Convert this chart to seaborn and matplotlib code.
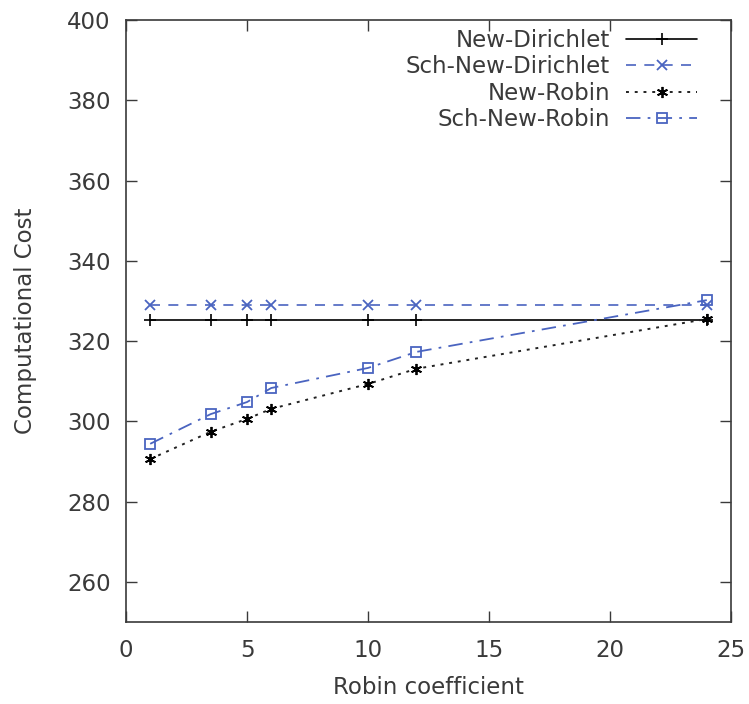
import matplotlib
matplotlib.use("Agg")
import matplotlib.pyplot as plt
import seaborn as sns
import pandas as pd

x_vals = [1, 3.5, 5, 6, 10, 12, 24]
new_dirichlet = [325.3, 325.3, 325.3, 325.3, 325.3, 325.3, 325.3]
sch_new_dirichlet = [329.0, 329.0, 329.0, 329.0, 329.0, 329.0, 329.0]
new_robin = [290.6, 297.4, 300.6, 303.1, 309.3, 313.1, 325.5]
sch_new_robin = [294.4, 301.8, 304.8, 308.3, 313.3, 317.3, 330.2]

sns.set_style("ticks")
plt.rcParams['font.family'] = ['DejaVu Sans']

fig = plt.figure(figsize=(7.49, 7.04), dpi=100)
ax = fig.add_axes([126/749, 1-622/704, (731-126)/749, (622-20)/704])

blue = '#4a64c0'
txt = '#3a3a3a'
series = [
    ("New-Dirichlet", new_dirichlet, dict(color='black', marker='+', linestyle='-', markersize=8, linewidth=1.2, markeredgewidth=1.2, markeredgecolor='black')),
    ("Sch-New-Dirichlet", sch_new_dirichlet, dict(color=blue, marker='x', dashes=(6, 5), markersize=7, linewidth=1.2, markeredgewidth=1.3, markeredgecolor=blue)),
    ("New-Robin", new_robin, dict(color='#222222', marker=(6, 2, 0), dashes=(1.5, 3), markersize=8, linewidth=1.4, markeredgewidth=1.3, markeredgecolor='black')),
    ("Sch-New-Robin", sch_new_robin, dict(color=blue, marker='s', dashes=(8, 4, 1.5, 4), markersize=7, linewidth=1.3, markerfacecolor='none', markeredgewidth=1.3, markeredgecolor=blue)),
]
for name, vals, kw in series:
    df = pd.DataFrame({"x": x_vals, "y": vals})
    sns.lineplot(data=df, x="x", y="y", ax=ax, label=name, **kw)

ax.set_xlim(0, 25)
ax.set_ylim(250, 400)
ax.set_xticks([0, 5, 10, 15, 20, 25])
ax.set_yticks([260, 280, 300, 320, 340, 360, 380, 400])
ax.tick_params(direction='in', top=True, right=True, length=8, width=1, labelsize=16.5, colors=txt, labelcolor=txt)
ax.tick_params(axis='y', pad=11)
ax.tick_params(axis='x', pad=12)
for s in ax.spines.values():
    s.set_color(txt)
    s.set_linewidth(1.2)
ax.set_xlabel("Robin coefficient", fontsize=16.5, color=txt, labelpad=10)
ax.set_ylabel("Computational Cost", fontsize=16.5, color=txt, labelpad=22)

leg = ax.legend(loc='upper right', frameon=False, markerfirst=False, fontsize=16.5,
                handlelength=3.1, handletextpad=0.7, labelspacing=0.15,
                bbox_to_anchor=(0.944, 0.985), borderaxespad=0, borderpad=0)
for t in leg.get_texts():
    t.set_color(txt)

fig.savefig("out.png", dpi=100)
